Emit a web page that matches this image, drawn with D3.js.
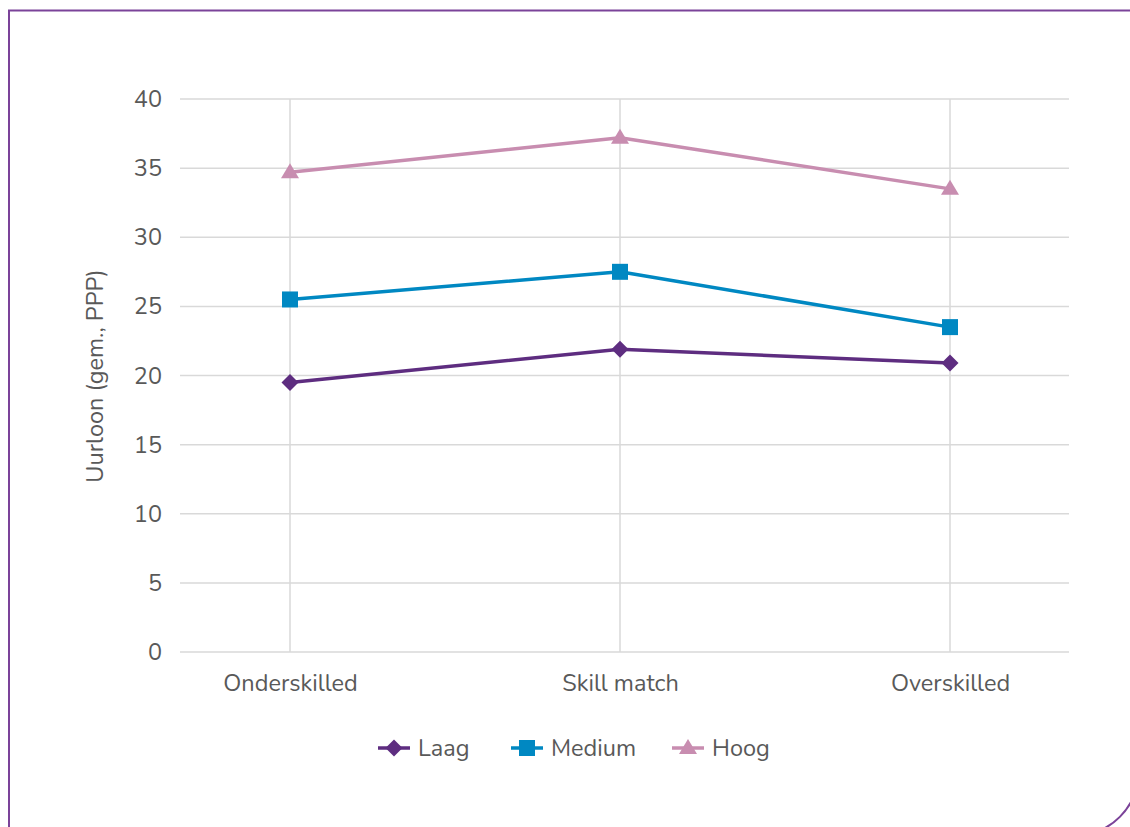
<!DOCTYPE html>
<html>
<head>
<meta charset="utf-8">
<script src="https://cdn.jsdelivr.net/npm/d3@7"></script>
<style>
  html, body { margin: 0; padding: 0; background: #fff; }
  svg { display: block; font-family: "Nunito", "Lato", "Open Sans", sans-serif; }
</style>
</head>
<body>
<svg id="chart" width="1130" height="827"></svg>
<script>
const categories = ["Onderskilled", "Skill match", "Overskilled"];
const seriesNames = ["Laag", "Medium", "Hoog"];
const laag = [19.5, 21.9, 20.9];
const medium = [25.5, 27.5, 23.5];
const hoog = [34.7, 37.2, 33.5];
const yTicks = [0, 5, 10, 15, 20, 25, 30, 35, 40];
const yTitle = "Uurloon (gem., PPP)";

const seriesValues = [laag, medium, hoog];
const colors = ["#5e2d80", "#0088c2", "#c88db0"];

// marker shapes (relative path generators)
const markerPaths = [
  "M0,-8.5 L8.5,0 L0,8.5 L-8.5,0 Z",          // diamond
  "M-8,-8 H8 V8 H-8 Z",                       // square
  "M0,-9 L9,6 L-9,6 Z"                        // triangle
];

const svg = d3.select("#chart");

// frame
svg.append("path")
  .attr("d", "M9,840 V10.5 H1138 V773 A62,62 0 0 1 1076,835")
  .attr("fill", "none")
  .attr("stroke", "#7b4399")
  .attr("stroke-width", 2);

const plotLeft = 180, plotRight = 1069, plotTop = 99, plotBottom = 652;

const x = d3.scalePoint().domain(categories).range([290, 950]);
const y = d3.scaleLinear().domain([0, 40]).range([plotBottom, plotTop]);

// horizontal grid
svg.append("g").selectAll("line").data(yTicks).join("line")
  .attr("x1", plotLeft).attr("x2", plotRight)
  .attr("y1", d => y(d)).attr("y2", d => y(d))
  .attr("stroke", "#d9d9d9").attr("stroke-width", 1.5);

// vertical grid
svg.append("g").selectAll("line").data(categories).join("line")
  .attr("x1", d => x(d)).attr("x2", d => x(d))
  .attr("y1", plotTop).attr("y2", plotBottom)
  .attr("stroke", "#d9d9d9").attr("stroke-width", 1.5);

const fontFam = "Nunito, Lato, 'Open Sans', sans-serif";

// y axis labels
const yAxis = d3.axisLeft(y).tickValues(yTicks).tickSize(0).tickPadding(0);
const gy = svg.append("g").attr("transform", `translate(162,0)`).call(yAxis);
gy.select(".domain").remove();
gy.selectAll("text").attr("fill", "#595959").style("font-size", "23.5px")
  .style("font-family", fontFam);

// x axis labels
const xAxis = d3.axisBottom(x).tickSize(0).tickPadding(0);
const gx = svg.append("g").attr("transform", `translate(0,674)`).call(xAxis);
gx.select(".domain").remove();
gx.selectAll("text").attr("fill", "#595959").style("font-size", "23.5px")
  .style("font-family", fontFam);

// y title
svg.append("text")
  .attr("transform", `translate(103,376) rotate(-90)`)
  .attr("text-anchor", "middle")
  .attr("fill", "#595959")
  .style("font-size", "23.5px")
  .text(yTitle);

// lines
const line = d3.line().x((d, i) => x(categories[i])).y(d => y(d));
seriesValues.forEach((vals, si) => {
  svg.append("path").datum(vals)
    .attr("d", line)
    .attr("fill", "none")
    .attr("stroke", colors[si])
    .attr("stroke-width", 3.5)
    .attr("stroke-linejoin", "round");
  svg.append("g").selectAll("path").data(vals).join("path")
    .attr("transform", (d, i) => `translate(${x(categories[i])},${y(d)})`)
    .attr("d", markerPaths[si])
    .attr("fill", colors[si]);
});

// legend
const legendX = [378, 511, 672];
const legendY = 748;
seriesNames.forEach((name, si) => {
  const g = svg.append("g").attr("transform", `translate(${legendX[si]},${legendY})`);
  g.append("line").attr("x1", 0).attr("x2", 32).attr("y1", 0).attr("y2", 0)
    .attr("stroke", colors[si]).attr("stroke-width", 3.5);
  g.append("path").attr("transform", "translate(16,0)")
    .attr("d", markerPaths[si])
    .attr("fill", colors[si]);
  g.append("text").attr("x", 40).attr("y", 0).attr("dy", "0.35em")
    .attr("fill", "#595959").style("font-size", "23.5px").text(name);
});
</script>
</body>
</html>
